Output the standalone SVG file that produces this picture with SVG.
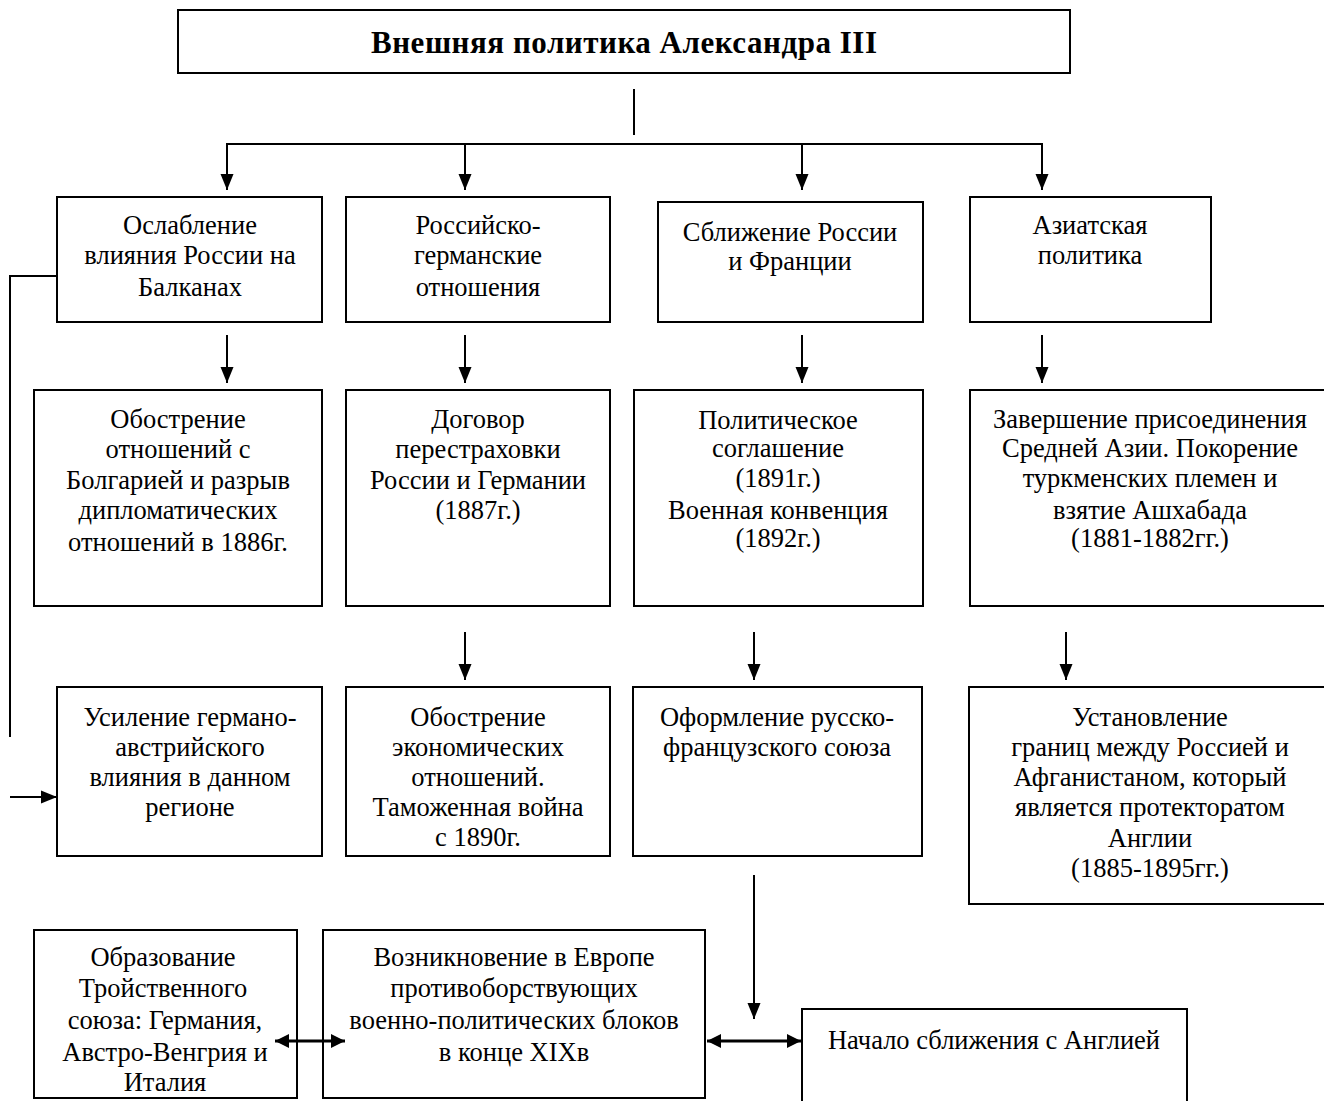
<svg xmlns="http://www.w3.org/2000/svg" width="1324" height="1101" viewBox="0 0 1324 1101">
<style>
.box{fill:#fff;stroke:#000;stroke-width:2}
text{font-family:"Liberation Serif","Times New Roman",serif;font-size:26.5px;fill:#000;text-anchor:middle}
.title{font-weight:bold;font-size:31px}
.ln{stroke:#000;stroke-width:2;fill:none}
.thick{stroke-width:3}
.arr{marker-end:url(#ah)}
.dbl{marker-end:url(#ah2);marker-start:url(#ah2)}
</style>
<defs>
<marker id="ah" markerUnits="userSpaceOnUse" markerWidth="16" markerHeight="14" refX="16" refY="7" orient="auto"><path d="M0,0.5 L16,7 L0,13.5 z" fill="#000"/></marker>
<marker id="ah2" markerUnits="userSpaceOnUse" markerWidth="14" markerHeight="16" refX="14" refY="8" orient="auto-start-reverse"><path d="M0,1 L14,8 L0,15 z" fill="#000"/></marker>
</defs>
<rect width="1324" height="1101" fill="#fff"/>
<g id="title"><rect class="box" x="178" y="10" width="892" height="63"/><text class="title" x="624" y="53" textLength="506" lengthAdjust="spacing">Внешняя политика Александра III</text></g>
<g id="n1"><rect class="box" x="57" y="197" width="265" height="125"/><text x="190" y="234">Ослабление</text><text x="190" y="264">влияния России на</text><text x="190" y="296">Балканах</text></g>
<g id="n2"><rect class="box" x="346" y="197" width="264" height="125"/><text x="478" y="234">Российско-</text><text x="478" y="264">германские</text><text x="478" y="296">отношения</text></g>
<g id="n3"><rect class="box" x="658" y="202" width="265" height="120"/><text x="790" y="241">Сближение России</text><text x="790" y="270">и Франции</text></g>
<g id="n4"><rect class="box" x="970" y="197" width="241" height="125"/><text x="1090" y="234">Азиатская</text><text x="1090" y="264">политика</text></g>
<g id="n5"><rect class="box" x="34" y="390" width="288" height="216"/><text x="178" y="428">Обострение</text><text x="178" y="458">отношений с</text><text x="178" y="489">Болгарией и разрыв</text><text x="178" y="519">дипломатических</text><text x="178" y="551">отношений в 1886г.</text></g>
<g id="n6"><rect class="box" x="346" y="390" width="264" height="216"/><text x="478" y="428">Договор</text><text x="478" y="458">перестраховки</text><text x="478" y="489">России и Германии</text><text x="478" y="519">(1887г.)</text></g>
<g id="n7"><rect class="box" x="634" y="390" width="289" height="216"/><text x="778" y="429">Политическое</text><text x="778" y="457">соглашение</text><text x="778" y="487">(1891г.)</text><text x="778" y="519">Военная конвенция</text><text x="778" y="547">(1892г.)</text></g>
<g id="n8"><rect class="box" x="970" y="390" width="360" height="216"/><text x="1150" y="428">Завершение присоединения</text><text x="1150" y="457">Средней Азии. Покорение</text><text x="1150" y="487">туркменских племен и</text><text x="1150" y="519">взятие Ашхабада</text><text x="1150" y="547">(1881-1882гг.)</text></g>
<g id="n9"><rect class="box" x="57" y="687" width="265" height="169"/><text x="190" y="726">Усиление германо-</text><text x="190" y="756">австрийского</text><text x="190" y="786">влияния в данном</text><text x="190" y="816">регионе</text></g>
<g id="n10"><rect class="box" x="346" y="687" width="264" height="169"/><text x="478" y="726">Обострение</text><text x="478" y="756">экономических</text><text x="478" y="786">отношений.</text><text x="478" y="816">Таможенная война</text><text x="478" y="846">с 1890г.</text></g>
<g id="n11"><rect class="box" x="633" y="687" width="289" height="169"/><text x="777" y="726">Оформление русско-</text><text x="777" y="756">французского союза</text></g>
<g id="n12"><rect class="box" x="969" y="687" width="360" height="217"/><text x="1150" y="726">Установление</text><text x="1150" y="756">границ между Россией и</text><text x="1150" y="786">Афганистаном, который</text><text x="1150" y="816">является протекторатом</text><text x="1150" y="847">Англии</text><text x="1150" y="877">(1885-1895гг.)</text></g>
<g id="n13"><rect class="box" x="34" y="930" width="263" height="168"/><text x="163" y="966">Образование</text><text x="163" y="997">Тройственного</text><text x="165" y="1029">союза: Германия,</text><text x="165" y="1061">Австро-Венгрия и</text><text x="165" y="1091">Италия</text></g>
<g id="n14"><rect class="box" x="323" y="930" width="382" height="168"/><text x="514" y="966">Возникновение в Европе</text><text x="514" y="997">противоборствующих</text><text x="514" y="1029">военно-политических блоков</text><text x="514" y="1061">в конце XIXв</text></g>
<g id="n15"><rect class="box" x="802" y="1009" width="385" height="100"/><text x="994" y="1049">Начало сближения с Англией</text></g>
<g id="connectors">
<path class="ln" d="M634,89 V135"/>
<path class="ln" d="M226,144 H1043"/>
<path class="ln arr" d="M227,144 V190"/>
<path class="ln arr" d="M465,144 V190"/>
<path class="ln arr" d="M802,144 V190"/>
<path class="ln arr" d="M1042,144 V190"/>
<path class="ln arr" d="M227,335 V383"/>
<path class="ln arr" d="M465,335 V383"/>
<path class="ln arr" d="M802,335 V383"/>
<path class="ln arr" d="M1042,335 V383"/>
<path class="ln arr" d="M465,632 V680"/>
<path class="ln arr" d="M754,632 V680"/>
<path class="ln arr" d="M1066,632 V680"/>
<path class="ln" d="M57,276 H10 V737"/>
<path class="ln arr" d="M10,797 H57"/>
<path class="ln arr" d="M754,875 V1019"/>
<path class="ln thick dbl" d="M275,1041 H345"/>
<path class="ln thick dbl" d="M707,1041 H801"/>
</g>
</svg>
